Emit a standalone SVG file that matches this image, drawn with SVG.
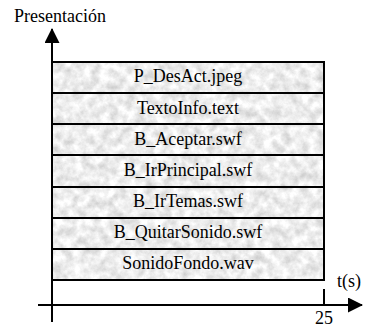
<svg xmlns="http://www.w3.org/2000/svg" width="371" height="329" viewBox="0 0 371 329" font-family="'Liberation Serif', 'Times New Roman', Times, serif" font-size="18">
<style>
text{font-family:'Liberation Serif','Times New Roman',Times,serif;font-size:18px;fill:#000}
.row rect{stroke:#000;stroke-width:2;fill:none}
.row text{text-anchor:middle}
.ax{stroke:#000;stroke-width:2;fill:none}
</style>
<defs>
<filter id="granite" x="0" y="0" width="100%" height="100%" color-interpolation-filters="sRGB">
<feTurbulence type="fractalNoise" baseFrequency="0.11" numOctaves="4" seed="7" result="n"/>
<feColorMatrix in="n" type="matrix" values="0.32 0 0 0 0.77  0.32 0 0 0 0.77  0.32 0 0 0 0.77  0 0 0 0 1" result="g"/>
<feComposite in="g" in2="SourceGraphic" operator="in"/>
</filter>
<marker id="arr" markerWidth="15" markerHeight="15" refX="14" refY="7.5" orient="auto" markerUnits="userSpaceOnUse">
<path d="M0,0 L15,7.5 L0,15 Z" fill="#000"/>
</marker>
</defs>
<rect x="52" y="62" width="272" height="218" fill="#ebebeb" filter="url(#granite)"/>
<g id="rows">
<g id="n1" class="row"><rect x="52" y="62" width="272" height="31"/><text x="188" y="82">P_DesAct.jpeg</text></g>
<g id="n2" class="row"><rect x="52" y="93" width="272" height="31"/><text x="188" y="113.5">TextoInfo.text</text></g>
<g id="n3" class="row"><rect x="52" y="124" width="272" height="31"/><text x="188" y="144.5">B_Aceptar.swf</text></g>
<g id="n4" class="row"><rect x="52" y="155" width="272" height="32"/><text x="188" y="175.5">B_IrPrincipal.swf</text></g>
<g id="n5" class="row"><rect x="52" y="187" width="272" height="31"/><text x="188" y="207">B_IrTemas.swf</text></g>
<g id="n6" class="row"><rect x="52" y="218" width="272" height="31"/><text x="188" y="238">B_QuitarSonido.swf</text></g>
<g id="n7" class="row"><rect x="52" y="249" width="272" height="31"/><text x="188" y="269">SonidoFondo.wav</text></g>
</g>
<g id="connectors">
<line class="ax" x1="52" y1="322" x2="52" y2="29" marker-end="url(#arr)"/>
<line class="ax" x1="38" y1="305" x2="362" y2="305" marker-end="url(#arr)"/>
<line class="ax" x1="324" y1="289" x2="324" y2="305"/>
</g>
<g id="labels">
<text x="14" y="22">Presentación</text>
<text x="337" y="287">t(s)</text>
<text x="324" y="324" text-anchor="middle">25</text>
</g>
</svg>
